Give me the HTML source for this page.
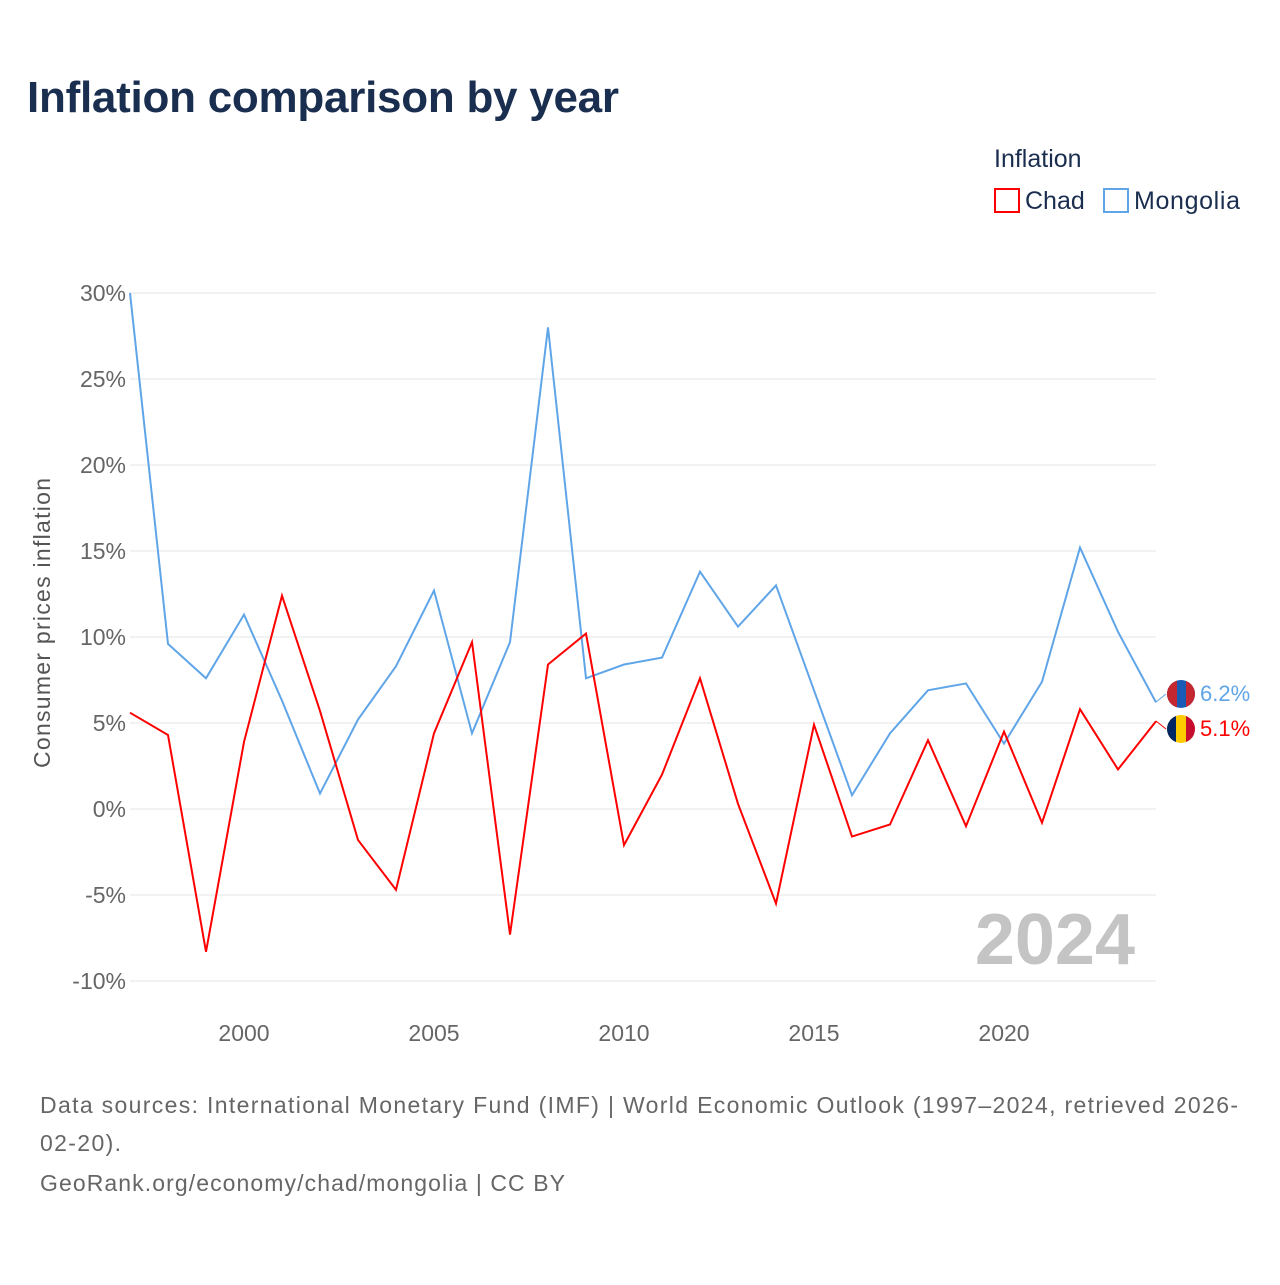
<!DOCTYPE html>
<html><head><meta charset="utf-8"><style>
body{margin:0;background:#fff;width:1280px;height:1280px;overflow:hidden;font-family:"Liberation Sans",sans-serif}
</style></head><body>
<svg width="1280" height="1280" xmlns="http://www.w3.org/2000/svg">
<defs><clipPath id="cm"><circle cx="1181" cy="694" r="14"/></clipPath><clipPath id="cc"><circle cx="1181" cy="729" r="14"/></clipPath></defs>
<text x="27" y="112" font-size="44" font-weight="bold" fill="#1a2e4f" textLength="592">Inflation comparison by year</text>
<text x="994" y="167" font-size="25" fill="#1a2e4f">Inflation</text>
<g><rect x="995" y="189" width="24" height="23" fill="none" stroke="#f00" stroke-width="2"/><text x="1025" y="209" font-size="25" fill="#1a2e4f">Chad</text></g>
<g><rect x="1104" y="189" width="24" height="23" fill="none" stroke="#5fa5e8" stroke-width="2"/><text x="1134" y="209" font-size="25" fill="#1a2e4f" textLength="106">Mongolia</text></g>
<g id="grid"></g><g id="yt"></g><g id="xt"></g>
<text transform="translate(50,623) rotate(-90)" text-anchor="middle" font-size="23" fill="#555" textLength="290">Consumer prices inflation</text>
<text x="1135" y="964" text-anchor="end" font-size="72" font-weight="bold" fill="#c4c4c4">2024</text>
<g id="series"></g>
<g><line x1="1156" y1="702" x2="1166" y2="694" stroke="#5fa5e8"/><g clip-path="url(#cm)"><rect x="1167" y="680" width="28" height="28" fill="#1a5bb5"/><rect x="1167" y="680" width="10" height="28" fill="#c4272f"/><rect x="1186" y="680" width="9" height="28" fill="#c4272f"/></g><text x="1200" y="701" font-size="22" fill="#5fa5e8">6.2%</text></g>
<g><line x1="1156" y1="721" x2="1166" y2="729" stroke="#f00"/><g clip-path="url(#cc)"><rect x="1167" y="715" width="28" height="28" fill="#fecb00"/><rect x="1167" y="715" width="9" height="28" fill="#002664"/><rect x="1186" y="715" width="9" height="28" fill="#c60c30"/></g><text x="1200" y="736" font-size="22" fill="#f00">5.1%</text></g>
<text font-size="23" fill="#666"><tspan x="40" y="1113" textLength="1198">Data sources: International Monetary Fund (IMF) | World Economic Outlook (1997–2024, retrieved 2026-</tspan><tspan x="40" y="1151" textLength="81">02-20).</tspan><tspan x="40" y="1191" textLength="525">GeoRank.org/economy/chad/mongolia | CC BY</tspan></text>
</svg>
<script>
const years=[1997,1998,1999,2000,2001,2002,2003,2004,2005,2006,2007,2008,2009,2010,2011,2012,2013,2014,2015,2016,2017,2018,2019,2020,2021,2022,2023,2024];
const chad=[5.6,4.3,-8.3,3.9,12.4,5.7,-1.8,-4.7,4.4,9.7,-7.3,8.4,10.2,-2.1,2.0,7.6,0.3,-5.5,4.9,-1.6,-0.9,4.0,-1.0,4.5,-0.8,5.8,2.3,5.1];
const mongolia=[30,9.6,7.6,11.3,6.3,0.9,5.2,8.3,12.7,4.4,9.7,28.0,7.6,8.4,8.8,13.8,10.6,13.0,6.9,0.8,4.4,6.9,7.3,3.8,7.4,15.2,10.3,6.2];
const yTicks=[30,25,20,15,10,5,0,-5,-10];
const xTicks=[2000,2005,2010,2015,2020];
const NS="http://www.w3.org/2000/svg";
const X=y=>130+(y-1997)*38, Y=v=>809-v*17.2;
function mk(t,a,p){const e=document.createElementNS(NS,t);for(const k in a)e.setAttribute(k,a[k]);p.appendChild(e);return e;}
const g=document.getElementById('grid'),yt=document.getElementById('yt'),xt=document.getElementById('xt'),s=document.getElementById('series');
yTicks.forEach(v=>{
 const l=mk('line',{x1:130,x2:1156,y1:Y(v),y2:Y(v),stroke:'#e6e6e6'},g);
 
 
 const t=mk('text',{x:126,y:Y(v)+8,'text-anchor':'end','font-size':23,fill:'#666'},yt);
 t.textContent=v+'%';
 
 
});
xTicks.forEach(v=>{
 const t=mk('text',{x:X(v),y:1041,'text-anchor':'middle','font-size':23,fill:'#666'},xt);
 t.textContent=v;
 
 
});
[[mongolia,'#5fa5e8','line-mongolia'],[chad,'#f00','line-chad']].forEach(([d,c,n])=>{
 const p=mk('polyline',{points:d.map((v,i)=>X(years[i])+','+Y(v)).join(' '),fill:'none',stroke:c,'stroke-width':2},s);
 
 
});
</script>
</body></html>
